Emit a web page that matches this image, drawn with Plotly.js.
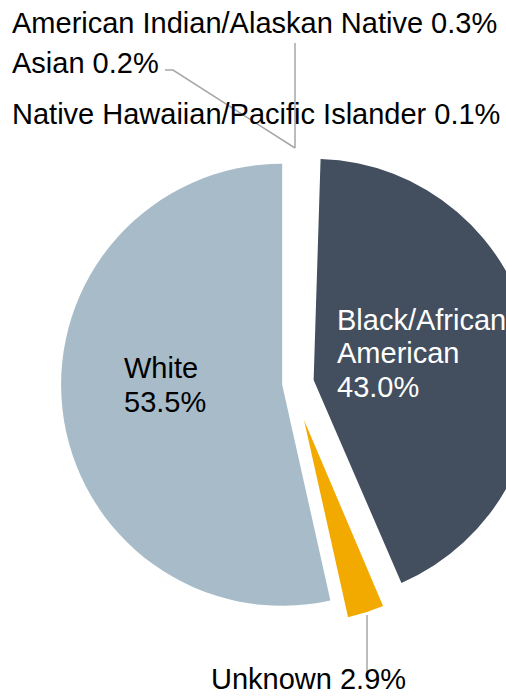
<!DOCTYPE html>
<html>
<head>
<meta charset="utf-8">
<script src="https://cdn.plot.ly/plotly-3.0.1.min.js"></script>
<style>
  html, body { margin: 0; padding: 0; width: 506px; height: 696px; overflow: hidden; background: #fff; }
  #chart { width: 620px; height: 696px; }
</style>
</head>
<body>
<div id="chart"></div>
<script>
// ---- Data ----
const categories = [
  "American Indian/Alaskan Native",
  "Asian",
  "Black/African American",
  "Native Hawaiian/Pacific Islander",
  "Unknown",
  "White"
];
const shares = [0.3, 0.2, 43.0, 0.1, 2.9, 53.5];
const sliceColors = ["#FFFFFF", "#FFFFFF", "#434F5E", "#FFFFFF", "#F2AA00", "#A7BBC8"];
const pulls = [0.072, 0.072, 0.072, 0.072, 0, 0.072];

// ---- Layout helpers ----
const W = 620, H = 696;
const px = x => x / W;
const py = y => 1 - y / H;
const FONT = "Liberation Sans, Arial, sans-serif";
const FS = 29;

const mainColors = sliceColors.map((c, i) => categories[i] === "Unknown" ? "rgba(0,0,0,0)" : c);
const unkColors = sliceColors.map((c, i) => categories[i] === "Unknown" ? c : "rgba(0,0,0,0)");

const traceMain = {
  type: "pie",
  labels: categories,
  values: shares,
  sort: false,
  direction: "clockwise",
  rotation: 0,
  pull: pulls,
  marker: { colors: mainColors, line: { width: 0 } },
  textinfo: "none",
  hoverinfo: "skip",
  showlegend: false,
  domain: { x: [px(61), px(535)], y: [76 / H, 550 / H] }
};
const traceUnknown = {
  type: "pie",
  labels: categories,
  values: shares,
  sort: false,
  direction: "clockwise",
  rotation: 0,
  marker: { colors: unkColors, line: { width: 0 } },
  textinfo: "none",
  hoverinfo: "skip",
  showlegend: false,
  domain: { x: [px(102), px(506)], y: [74 / H, 478 / H] }
};

function pct(i) { return shares[i].toFixed(1) + "%"; }

// text lines: [text, left x, baseline y, color]
const textLines = [
  [categories[0] + " " + pct(0), 11, 33, "#000"],
  [categories[1] + " " + pct(1), 11, 73, "#000"],
  [categories[3] + " " + pct(3), 11, 124, "#000"],
  ["White", 123, 378, "#000"],
  [pct(5), 123, 412, "#000"],
  ["Black/African", 336, 330, "#fff"],
  ["American", 336, 363, "#fff"],
  [pct(2), 336, 397, "#fff"],
  [categories[4] + " " + pct(4), 210, 689, "#000"]
];

const annotations = textLines.map(([t, x, b, c]) => ({
  text: t,
  xref: "paper", yref: "paper",
  x: px(x - 1), y: py(b - 0.346 * FS),
  xanchor: "left", yanchor: "middle",
  align: "left",
  showarrow: false,
  font: { family: FONT, size: FS, color: c }
}));

const lineColor = "#A6A6A6";
const shapes = [
  { type: "line", xref: "paper", yref: "paper", x0: px(295), y0: py(43), x1: px(295), y1: py(148), line: { color: lineColor, width: 1.5 } },
  { type: "path", xref: "paper", yref: "paper",
    path: `M ${px(165)} ${py(70)} L ${px(173)} ${py(70)} L ${px(295)} ${py(148)}`,
    line: { color: lineColor, width: 1.5 } },
  { type: "line", xref: "paper", yref: "paper", x0: px(367), y0: py(615), x1: px(367), y1: py(676), line: { color: lineColor, width: 1.5 } }
];

const layout = {
  width: W, height: H,
  margin: { l: 0, r: 0, t: 0, b: 0 },
  paper_bgcolor: "#fff",
  showlegend: false,
  annotations: annotations,
  shapes: shapes
};

Plotly.newPlot("chart", [traceMain, traceUnknown], layout, { staticPlot: true, displayModeBar: false });
</script>
</body>
</html>
